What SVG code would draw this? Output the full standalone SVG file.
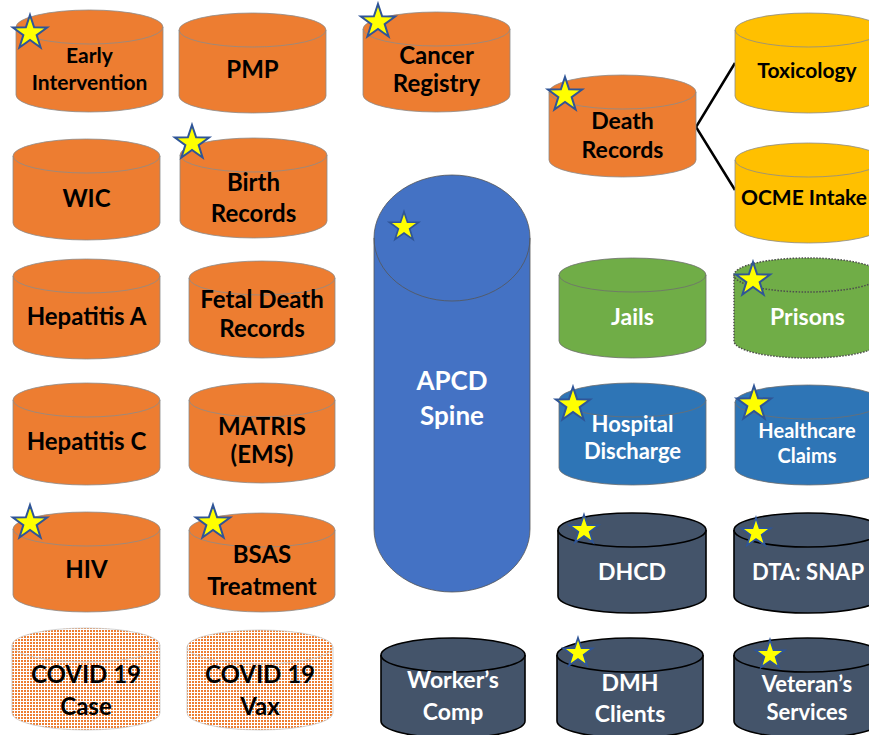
<svg xmlns="http://www.w3.org/2000/svg" xmlns:xlink="http://www.w3.org/1999/xlink" width="869" height="735" viewBox="0 0 869 735">
<defs>
<style>
.or{fill:#ED7D31;stroke:#8c8c8c;stroke-width:0.8}
.yl{fill:#FFC000;stroke:#8c8c8c;stroke-width:0.8}
.gr{fill:#70AD47;stroke:#6f6f6f;stroke-width:0.8}
.grd{fill:#70AD47;stroke:#4d4d4d;stroke-width:1.5;stroke-dasharray:1.5 1.5}
.bl{fill:#2E75B6;stroke:#6f6f6f;stroke-width:0.8}
.ap{fill:#4472C4;stroke:#555;stroke-width:0.8}
.dk{fill:#44546A;stroke:#000;stroke-width:1.6}
.cv{fill:url(#dots);stroke:#c8c8c8;stroke-width:0.8}
.arc{fill:none}
text{font-family:Lato,"Liberation Sans",sans-serif;font-weight:bold;text-anchor:middle}
.tb{fill:#000;font-size:24px}
.tw{fill:#fff;font-size:23px}
.star{fill:#FFFF00;stroke:#2F5597;stroke-width:2;stroke-linejoin:miter}
.conn{fill:none;stroke:#000;stroke-width:2.5}
</style>
<pattern id="dots" width="3" height="3" patternUnits="userSpaceOnUse">
<rect width="3" height="3" fill="#fff"/>
<rect x="0" y="0" width="2" height="2" fill="#ED7D31"/>
</pattern>
<path id="st" d="M0,-18 L4.11,-5.66 L17.12,-5.56 L6.66,2.16 L10.58,14.56 L0,7 L-10.58,14.56 L-6.66,2.16 L-17.12,-5.56 L-4.11,-5.66 Z"/>
</defs>
<rect width="869" height="735" fill="#fff"/>

<g id="connectors">
<polyline class="conn" points="735,63 696,127 735,190"/>
</g>

<g id="early">
<path class="or" d="M16,27 A73.5,17 0 0 1 163,27 V95 A73.5,17 0 0 1 16,95 Z"/>
<path class="or arc" d="M16,27 A73.5,17 0 0 0 163,27"/>
<text class="tb" x="89.5" y="63" style="font-size:21px">Early</text>
<text class="tb" x="89.5" y="90" style="font-size:21px">Intervention</text>
<use xlink:href="#st" class="star" transform="translate(30,33)"/>
</g>

<g id="pmp">
<path class="or" d="M179,30 A73.5,17 0 0 1 326,30 V96 A73.5,17 0 0 1 179,96 Z"/>
<path class="or arc" d="M179,30 A73.5,17 0 0 0 326,30"/>
<text class="tb" x="252.5" y="78">PMP</text>
</g>

<g id="wic">
<path class="or" d="M13,156 A73.5,17 0 0 1 160,156 V223 A73.5,17 0 0 1 13,223 Z"/>
<path class="or arc" d="M13,156 A73.5,17 0 0 0 160,156"/>
<text class="tb" x="86.5" y="207">WIC</text>
</g>

<g id="birth">
<path class="or" d="M180,155 A73.5,17 0 0 1 327,155 V221 A73.5,17 0 0 1 180,221 Z"/>
<path class="or arc" d="M180,155 A73.5,17 0 0 0 327,155"/>
<text class="tb" x="253.5" y="191">Birth</text>
<text class="tb" x="253.5" y="222">Records</text>
<use xlink:href="#st" class="star" transform="translate(192,143)"/>
</g>

<g id="hepA">
<path class="or" d="M13,276 A73.5,17 0 0 1 160,276 V342 A73.5,17 0 0 1 13,342 Z"/>
<path class="or arc" d="M13,276 A73.5,17 0 0 0 160,276"/>
<text class="tb" x="86.5" y="325">Hepatitis A</text>
</g>

<g id="fetal">
<path class="or" d="M189,278 A73,17 0 0 1 335,278 V341 A73,17 0 0 1 189,341 Z"/>
<path class="or arc" d="M189,278 A73,17 0 0 0 335,278"/>
<text class="tb" x="262" y="308">Fetal Death</text>
<text class="tb" x="262" y="337">Records</text>
</g>

<g id="hepC">
<path class="or" d="M13,400 A73.5,17 0 0 1 160,400 V468 A73.5,17 0 0 1 13,468 Z"/>
<path class="or arc" d="M13,400 A73.5,17 0 0 0 160,400"/>
<text class="tb" x="86.5" y="450">Hepatitis C</text>
</g>

<g id="matris">
<path class="or" d="M189,400 A73,17 0 0 1 335,400 V466 A73,17 0 0 1 189,466 Z"/>
<path class="or arc" d="M189,400 A73,17 0 0 0 335,400"/>
<text class="tb" x="262" y="435">MATRIS</text>
<text class="tb" x="262" y="463">(EMS)</text>
</g>

<g id="hiv">
<path class="or" d="M13,529 A73.5,17 0 0 1 160,529 V595 A73.5,17 0 0 1 13,595 Z"/>
<path class="or arc" d="M13,529 A73.5,17 0 0 0 160,529"/>
<text class="tb" x="86.5" y="578">HIV</text>
<use xlink:href="#st" class="star" transform="translate(30,523)"/>
</g>

<g id="bsas">
<path class="or" d="M189,530 A73,17 0 0 1 335,530 V595 A73,17 0 0 1 189,595 Z"/>
<path class="or arc" d="M189,530 A73,17 0 0 0 335,530"/>
<text class="tb" x="262" y="563">BSAS</text>
<text class="tb" x="262" y="595">Treatment</text>
<use xlink:href="#st" class="star" transform="translate(213,523)"/>
</g>

<g id="covidCase">
<path class="cv" d="M12,645 A74,17 0 0 1 160,645 V713 A74,17 0 0 1 12,713 Z"/>
<path class="cv arc" d="M12,645 A74,17 0 0 0 160,645"/>
<text class="tb" x="86" y="683">COVID 19</text>
<text class="tb" x="86" y="715">Case</text>
</g>

<g id="covidVax">
<path class="cv" d="M187,647 A73,17 0 0 1 333,647 V713 A73,17 0 0 1 187,713 Z"/>
<path class="cv arc" d="M187,647 A73,17 0 0 0 333,647"/>
<text class="tb" x="260" y="683">COVID 19</text>
<text class="tb" x="260" y="715">Vax</text>
</g>

<g id="cancer">
<path class="or" d="M363,29 A73.5,17 0 0 1 510,29 V95 A73.5,17 0 0 1 363,95 Z"/>
<path class="or arc" d="M363,29 A73.5,17 0 0 0 510,29"/>
<text class="tb" x="436.5" y="64">Cancer</text>
<text class="tb" x="436.5" y="92">Registry</text>
<use xlink:href="#st" class="star" transform="translate(378,22)"/>
</g>

<g id="apcd">
<path class="ap" d="M374,238 A78,63 0 0 1 530,238 V529 A78,63 0 0 1 374,529 Z"/>
<path class="ap arc" d="M374,238 A78,63 0 0 0 530,238"/>
<text class="tw" x="452" y="390" style="font-size:26px">APCD</text>
<text class="tw" x="452" y="425" style="font-size:26px">Spine</text>
<use xlink:href="#st" class="star" transform="translate(404,227) scale(0.85)"/>
</g>

<g id="death">
<path class="or" d="M549,92 A73.5,17 0 0 1 696,92 V160 A73.5,17 0 0 1 549,160 Z"/>
<path class="or arc" d="M549,92 A73.5,17 0 0 0 696,92"/>
<text class="tb" x="622.5" y="129" style="font-size:23px">Death</text>
<text class="tb" x="622.5" y="158" style="font-size:23px">Records</text>
<use xlink:href="#st" class="star" transform="translate(565,95)"/>
</g>

<g id="tox">
<path class="yl" d="M735,30 A73.5,17 0 0 1 882,30 V96 A73.5,17 0 0 1 735,96 Z"/>
<path class="yl arc" d="M735,30 A73.5,17 0 0 0 882,30"/>
<text class="tb" x="807" y="78" style="font-size:21px">Toxicology</text>
</g>

<g id="ocme">
<path class="yl" d="M735,160 A73.5,17 0 0 1 882,160 V226 A73.5,17 0 0 1 735,226 Z"/>
<path class="yl arc" d="M735,160 A73.5,17 0 0 0 882,160"/>
<text class="tb" x="867" y="205" style="font-size:21px;text-anchor:end">OCME Intake</text>
</g>

<g id="jails">
<path class="gr" d="M559,275 A73.5,17 0 0 1 706,275 V341 A73.5,17 0 0 1 559,341 Z"/>
<path class="gr arc" d="M559,275 A73.5,17 0 0 0 706,275"/>
<text class="tw" x="632.5" y="325">Jails</text>
</g>

<g id="prisons">
<path class="grd" d="M734,275 A73.5,17 0 0 1 881,275 V341 A73.5,17 0 0 1 734,341 Z"/>
<path class="grd arc" d="M734,275 A73.5,17 0 0 0 881,275"/>
<text class="tw" x="807.5" y="325">Prisons</text>
<use xlink:href="#st" class="star" transform="translate(753,280)"/>
</g>

<g id="hospital">
<path class="bl" d="M559,400 A73.5,17 0 0 1 706,400 V468 A73.5,17 0 0 1 559,468 Z"/>
<path class="bl arc" d="M559,400 A73.5,17 0 0 0 706,400"/>
<text class="tw" x="632.5" y="432" style="font-size:22px">Hospital</text>
<text class="tw" x="632.5" y="459" style="font-size:22px">Discharge</text>
<use xlink:href="#st" class="star" transform="translate(573,405)"/>
</g>

<g id="healthcare">
<path class="bl" d="M735,402 A73.5,17 0 0 1 882,402 V468 A73.5,17 0 0 1 735,468 Z"/>
<path class="bl arc" d="M735,402 A73.5,17 0 0 0 882,402"/>
<text class="tw" x="807" y="438" style="font-size:20px">Healthcare</text>
<text class="tw" x="807" y="463" style="font-size:20px">Claims</text>
<use xlink:href="#st" class="star" transform="translate(754,404)"/>
</g>

<g id="dhcd">
<path class="dk" d="M558,530 A74,17 0 0 1 706,530 V596 A74,17 0 0 1 558,596 Z"/>
<path class="dk arc" d="M558,530 A74,17 0 0 0 706,530"/>
<text class="tw" x="632" y="580">DHCD</text>
<use xlink:href="#st" class="star" transform="translate(584,530) scale(0.85)"/>
</g>

<g id="dta">
<path class="dk" d="M734,530 A74,17 0 0 1 882,530 V596 A74,17 0 0 1 734,596 Z"/>
<path class="dk arc" d="M734,530 A74,17 0 0 0 882,530"/>
<text class="tw" x="808" y="580" style="font-size:22px">DTA: SNAP</text>
<use xlink:href="#st" class="star" transform="translate(756,533) scale(0.85)"/>
</g>

<g id="workers">
<path class="dk" d="M381,655 A72,17 0 0 1 525,655 V721 A72,17 0 0 1 381,721 Z"/>
<path class="dk arc" d="M381,655 A72,17 0 0 0 525,655"/>
<text class="tw" x="453" y="688">Worker’s</text>
<text class="tw" x="453" y="720">Comp</text>
</g>

<g id="dmh">
<path class="dk" d="M557,655 A73,17 0 0 1 703,655 V721 A73,17 0 0 1 557,721 Z"/>
<path class="dk arc" d="M557,655 A73,17 0 0 0 703,655"/>
<text class="tw" x="630" y="691">DMH</text>
<text class="tw" x="630" y="722">Clients</text>
<use xlink:href="#st" class="star" transform="translate(578,653) scale(0.85)"/>
</g>

<g id="veteran">
<path class="dk" d="M734,655 A73.5,17 0 0 1 881,655 V721 A73.5,17 0 0 1 734,721 Z"/>
<path class="dk arc" d="M734,655 A73.5,17 0 0 0 881,655"/>
<text class="tw" x="807" y="692" style="font-size:22px">Veteran’s</text>
<text class="tw" x="807" y="720" style="font-size:22px">Services</text>
<use xlink:href="#st" class="star" transform="translate(770,655) scale(0.85)"/>
</g>
</svg>
